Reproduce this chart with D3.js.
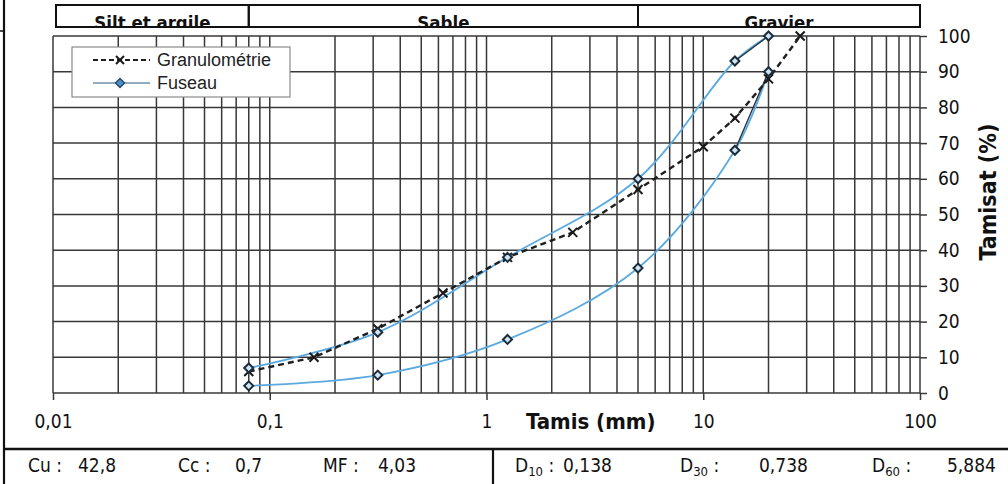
<!DOCTYPE html>
<html>
<head>
<meta charset="utf-8">
<script src="https://cdn.jsdelivr.net/npm/d3@7"></script>
<style>
  html, body { margin: 0; padding: 0; background: #fff; }
  svg { display: block; }
</style>
</head>
<body>
<div id="chart"></div>
<script>
// Courbe granulométrique : tamis (mm) / tamisat cumulé (%)
const tamisGranulo   = [0.08, 0.16, 0.315, 0.63, 1.25, 2.5, 5, 10, 14, 20, 28];
const tamisatGranulo = [6, 10, 18, 28, 38, 45, 57, 69, 77, 88, 100];

// Fuseau de spécification (bornes supérieure et inférieure)
const tamisFuseau   = [0.08, 0.315, 1.25, 5, 14, 20];
const fuseauSup     = [7, 17, 38, 60, 93, 100];
const fuseauInf     = [2, 5, 15, 35, 68, 90];

// Classes granulaires (limites en mm)
const classes       = ["Silt et argile", "Sable", "Gravier"];
const classeLimites = [0.0078, 0.08, 5, 100];

// Graduations
const xTicks = [0.01, 0.1, 1, 10, 100];
const yTicks = [0, 10, 20, 30, 40, 50, 60, 70, 80, 90, 100];

// Caractéristiques
const statsGauche   = [["Cu :", "42,8"], ["Cc :", "0,7"], ["MF :", "4,03"]];
const statsDroite   = [["10", "0,138"], ["30", "0,738"], ["60", "5,884"]];

const W = 1008, H = 484;
const FONT = "'DejaVu Sans Condensed', 'DejaVu Sans', sans-serif";

const svg = d3.select("#chart").append("svg")
  .attr("width", W).attr("height", H);

const x = d3.scaleLog().domain([0.01, 100]).range([53, 920]);
const y = d3.scaleLinear().domain([0, 100]).range([393, 36]);

const gridColor = "#383838";
const gridWidth = 1.5;

// Quadrillage logarithmique
const xGrid = [];
[0.01, 0.1, 1, 10].forEach(d => { for (let k = 1; k <= 9; k++) xGrid.push(d * k); });
xGrid.push(100);

const grid = svg.append("g");
grid.selectAll("line.v").data(xGrid).join("line")
  .attr("x1", d => x(d)).attr("x2", d => x(d))
  .attr("y1", y(100)).attr("y2", y(0))
  .attr("stroke", gridColor).attr("stroke-width", gridWidth);
grid.selectAll("line.h").data(yTicks).join("line")
  .attr("x1", x(0.01)).attr("x2", x(100))
  .attr("y1", d => y(d)).attr("y2", d => y(d))
  .attr("stroke", gridColor).attr("stroke-width", gridWidth);

// Axe des tamis
const fmt = d => String(d).replace(".", ",");
const xAxis = svg.append("g").attr("transform", `translate(0,${y(0)})`)
  .call(d3.axisBottom(x).tickValues(xTicks).tickFormat(fmt).tickSize(7).tickSizeOuter(0).tickPadding(15));
xAxis.select(".domain").remove();
xAxis.selectAll("line").attr("stroke", gridColor).attr("stroke-width", gridWidth);
xAxis.selectAll("text").attr("font-family", FONT).attr("font-size", 19).attr("fill", "#111");

// Axe du tamisat (à droite)
const yAxis = svg.append("g").attr("transform", `translate(${x(100)},0)`)
  .call(d3.axisRight(y).tickValues(yTicks).tickSize(7).tickSizeOuter(0).tickPadding(11));
yAxis.select(".domain").remove();
yAxis.selectAll("line").attr("stroke", gridColor).attr("stroke-width", gridWidth);
yAxis.selectAll("text").attr("font-family", FONT).attr("font-size", 19).attr("fill", "#111");

// Titres d'axes
svg.append("text").attr("x", 526).attr("y", 429)
  .attr("font-family", FONT).attr("font-weight", "bold").attr("font-size", 22).attr("fill", "#111")
  .text("Tamis (mm)");
svg.append("text")
  .attr("transform", "translate(996,192) rotate(-90)")
  .attr("text-anchor", "middle")
  .attr("font-family", FONT).attr("font-weight", "bold").attr("font-size", 23).attr("fill", "#111")
  .text("Tamisat (%)");

// Bandeau des classes granulaires
svg.append("clipPath").attr("id", "clipBandeau")
  .append("rect").attr("x", 0).attr("y", 5).attr("width", W).attr("height", 22);
const bandeau = svg.append("g");
classes.forEach((c, i) => {
  const x0 = i === 0 ? 56 : x(classeLimites[i]);
  const x1 = x(classeLimites[i + 1]);
  bandeau.append("text").attr("x", (x0 + x1) / 2).attr("y", 29)
    .attr("clip-path", "url(#clipBandeau)")
    .attr("text-anchor", "middle")
    .attr("font-family", FONT).attr("font-weight", "bold").attr("font-size", 18.5).attr("fill", "#111")
    .text(c);
  bandeau.append("rect").attr("x", x0).attr("y", 5).attr("width", x1 - x0).attr("height", 22)
    .attr("fill", "none").attr("stroke", "#111").attr("stroke-width", 2);
});

// Fuseau : courbe bleue lissée, dernier tronçon en trait sombre
const zip = (a, b) => a.map((t, i) => [t, b[i]]);
const lineStraight = d3.line().x(d => x(d[0])).y(d => y(d[1]));
const lineSmooth = d3.line().x(d => x(d[0])).y(d => y(d[1])).curve(d3.curveCatmullRom.alpha(0.5));

const fuseaux = [zip(tamisFuseau, fuseauSup), zip(tamisFuseau, fuseauInf)];
const gF = svg.append("g");
fuseaux.forEach(pts => {
  gF.append("path").attr("d", lineSmooth(pts)).attr("fill", "none")
    .attr("stroke", "#5aaae0").attr("stroke-width", 1.8);
  gF.append("path").attr("d", lineStraight(pts.slice(-2))).attr("fill", "none")
    .attr("stroke", "#26343f").attr("stroke-width", 1.4);
});

// Granulométrie
const granulo = zip(tamisGranulo, tamisatGranulo);
svg.append("path").attr("d", lineStraight(granulo)).attr("fill", "none")
  .attr("stroke", "#1f1f1f").attr("stroke-width", 2.4).attr("stroke-dasharray", "6,4");

const crossPath = s => `M${-s},${-s}L${s},${s}M${-s},${s}L${s},${-s}`;
const diamondPath = s => `M0,${-s}L${s},0L0,${s}L${-s},0Z`;

svg.append("g").selectAll("path").data(granulo).join("path")
  .attr("transform", d => `translate(${x(d[0])},${y(d[1])})`)
  .attr("d", crossPath(4.5)).attr("stroke", "#1a1a1a").attr("stroke-width", 2).attr("fill", "none");

fuseaux.forEach(pts => {
  svg.append("g").selectAll("path").data(pts).join("path")
    .attr("transform", d => `translate(${x(d[0])},${y(d[1])})`)
    .attr("d", diamondPath(4.5)).attr("fill", "#cfe5f4")
    .attr("stroke", "#1b2c3a").attr("stroke-width", 2);
});

// Légende
const leg = svg.append("g");
leg.append("rect").attr("x", 72).attr("y", 47).attr("width", 218).attr("height", 50)
  .attr("fill", "#fff").attr("stroke", "#8a8a8a").attr("stroke-width", 1.2);
leg.append("line").attr("x1", 93).attr("x2", 150).attr("y1", 60).attr("y2", 60)
  .attr("stroke", "#1f1f1f").attr("stroke-width", 2.2).attr("stroke-dasharray", "5,3");
leg.append("path").attr("transform", "translate(120,60)").attr("d", crossPath(4))
  .attr("stroke", "#1a1a1a").attr("stroke-width", 2).attr("fill", "none");
leg.append("line").attr("x1", 93).attr("x2", 150).attr("y1", 83).attr("y2", 83)
  .attr("stroke", "#6d93ad").attr("stroke-width", 1.5);
leg.append("path").attr("transform", "translate(120,83)").attr("d", diamondPath(4.5))
  .attr("fill", "#4a92cc").attr("stroke", "#284a66").attr("stroke-width", 1.5);
leg.selectAll("text").data(["Granulométrie", "Fuseau"]).join("text")
  .attr("x", 157).attr("y", (d, i) => 60 + i * 23).attr("dy", "0.35em")
  .attr("font-family", "'Liberation Sans', Arial, sans-serif").attr("font-size", 18).attr("fill", "#222")
  .text(d => d);

// Cadre de la page et tableau des caractéristiques
svg.append("line").attr("x1", 4).attr("x2", 4).attr("y1", 0).attr("y2", H)
  .attr("stroke", "#111").attr("stroke-width", 2.2);
svg.append("line").attr("x1", 0).attr("x2", 4).attr("y1", 31).attr("y2", 31)
  .attr("stroke", "#111").attr("stroke-width", 1.5);
svg.append("line").attr("x1", 4).attr("x2", W).attr("y1", 449).attr("y2", 449)
  .attr("stroke", "#111").attr("stroke-width", 2.6);
svg.append("line").attr("x1", 493).attr("x2", 493).attr("y1", 449).attr("y2", H)
  .attr("stroke", "#111").attr("stroke-width", 2.2);

const tab = svg.append("g").attr("font-family", FONT).attr("font-size", 19).attr("fill", "#111");
const gaucheX = [[28, 78], [178, 235], [323, 378]];
statsGauche.forEach((s, i) => {
  tab.append("text").attr("x", gaucheX[i][0]).attr("y", 472).text(s[0]);
  tab.append("text").attr("x", gaucheX[i][1]).attr("y", 472).text(s[1]);
});
const droiteX = [[515, 563], [680, 759], [872, 947]];
statsDroite.forEach((s, i) => {
  const t = tab.append("text").attr("x", droiteX[i][0]).attr("y", 472);
  t.append("tspan").text("D");
  t.append("tspan").attr("font-size", 13).attr("dy", 4).text(s[0]);
  t.append("tspan").attr("dy", -4).text(" :");
  tab.append("text").attr("x", droiteX[i][1]).attr("y", 472).text(s[1]);
});
</script>
</body>
</html>
